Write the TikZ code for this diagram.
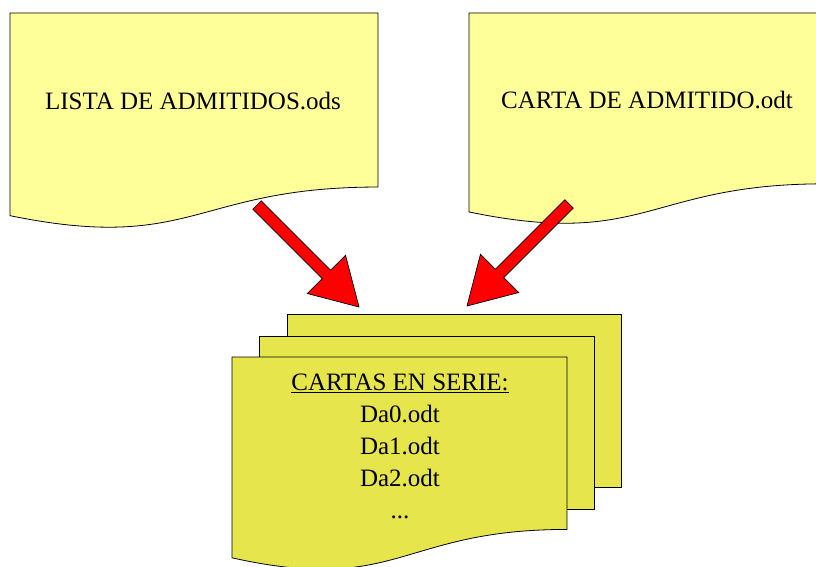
\documentclass[tikz,border=0pt]{standalone}
\usepackage{fontspec}
\setmainfont{Liberation Serif}
\usetikzlibrary{calc}
\definecolor{docpale}{HTML}{FFFF99}
\definecolor{docolive}{HTML}{E6E64C}
\definecolor{arrowred}{HTML}{FF0000}
\tikzset{
  docline/.style={draw=black, line width=0.8pt, line join=miter},
  redarrow/.style={draw=black, fill=arrowred, line width=0.7pt, line join=miter},
  lbl/.style={inner sep=0pt, font=\fontsize{25}{32}\selectfont},
}
\newcommand\wavedoc[5]{%
  \path[docline,fill=#5] (#1,#2) -- ({#1+#3},#2) -- ({#1+#3},{#2+0.802*#4})
    .. controls ({#1+0.5*#3},{#2+0.802*#4}) and ({#1+0.5*#3},{#2+1.107*#4}) ..
    (#1,{#2+0.934*#4}) -- cycle;}
\newcommand\blockarrow[2]{%
  \coordinate (#1-base) at ($(#2)!46pt!(#1)$);
  \path[redarrow] ($(#1)!6pt!90:(#2)$) -- ($(#1-base)!6pt!90:(#2)$)
    -- ($(#1-base)!27pt!90:(#2)$) -- (#2) -- ($(#1-base)!27pt!-90:(#2)$)
    -- ($(#1-base)!6pt!-90:(#2)$) -- ($(#1)!6pt!-90:(#2)$) -- cycle;}
\begin{document}
\begin{tikzpicture}[x=1pt, y=-1pt]
\useasboundingbox (0,0) rectangle (816,567);
\clip (0,0) rectangle (816,567);
% source documents
\wavedoc{10}{13}{368}{217}{docpale}
\wavedoc{469}{13}{356}{213}{docpale}
\node[lbl, anchor=base] (lista) at (193,110) {LISTA DE ADMITIDOS.ods};
\node[lbl, anchor=base] (carta) at (647,109) {CARTA DE ADMITIDO.odt};
% stacked result documents
\path[docline, fill=docolive] (287,314) rectangle (621,487);
\path[docline, fill=docolive] (259,336) rectangle (594,509);
\wavedoc{232}{357}{335}{215}{docolive}
\node[lbl, anchor=base, align=center] (cartas) at (400,518)
  {\underline{CARTAS EN SERIE:}\\Da0.odt\\Da1.odt\\Da2.odt\\...};
% arrows
\coordinate (la-tail) at (257,205);
\coordinate (la-tip) at (359,307);
\coordinate (ra-tail) at (569,204);
\coordinate (ra-tip) at (467,306);
\blockarrow{la-tail}{la-tip}
\blockarrow{ra-tail}{ra-tip}
\end{tikzpicture}
\end{document}
